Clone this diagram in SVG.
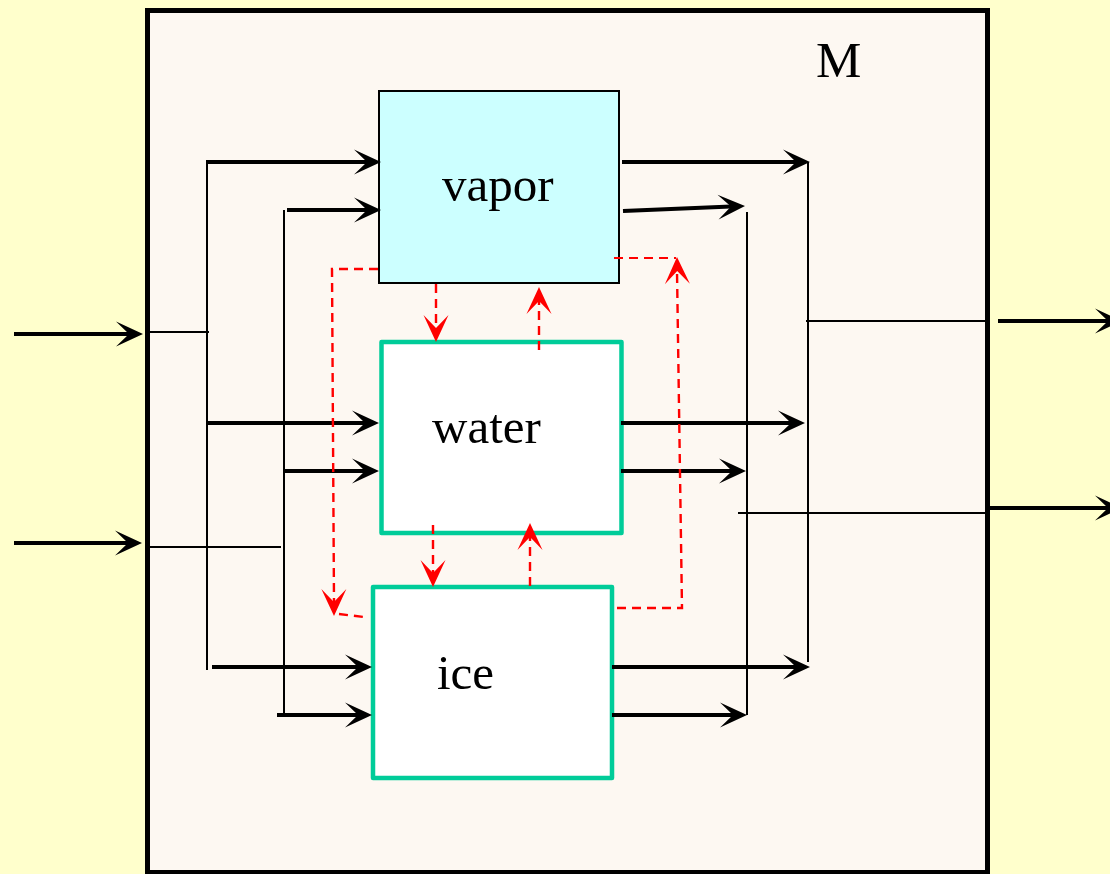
<svg xmlns="http://www.w3.org/2000/svg" width="1110" height="874" viewBox="0 0 1110 874">
<defs>
<style>
.lbl{font-family:"Liberation Serif","Times New Roman",serif;font-size:49px;fill:#000}
.thick{stroke:#000;stroke-width:4;fill:none}
.thin{stroke:#000;stroke-width:2;fill:none}
.red{stroke:#FF0000;stroke-width:2.4;fill:none;stroke-dasharray:9 6}
.teal{fill:#FFFFFF;stroke:#00CC99;stroke-width:4.5;stroke-linejoin:round}
.bh{fill:#000}
.rh{fill:#FF0000}
</style>
<path id="head" d="M0,0 L-27,-12.5 L-14,0 L-27,12.5 Z"/>
</defs>
<rect x="0" y="0" width="1110" height="874" fill="#FFFFCC"/>
<g id="M">
<rect x="147.5" y="10.5" width="840" height="862" fill="#FDF8F2" stroke="#000" stroke-width="5"/>
<text class="lbl" x="816" y="77" style="font-size:51px">M</text>
</g>
<g id="vapor">
<rect x="379" y="91" width="240" height="192" fill="#CCFFFF" stroke="#000" stroke-width="2"/>
<text class="lbl" x="442" y="201">vapor</text>
</g>
<g id="water">
<rect x="381.5" y="342" width="240" height="191" class="teal"/>
<text class="lbl" x="432" y="443">water</text>
</g>
<g id="ice">
<rect x="373" y="587" width="239" height="191" class="teal"/>
<text class="lbl" x="437" y="689">ice</text>
</g>
<g id="connectors">
<!-- external inputs -->
<line x1="14" y1="334" x2="129" y2="334" class="thick"/>
<use href="#head" class="bh" transform="translate(143,334)"/>
<line x1="14" y1="543" x2="128" y2="543" class="thick"/>
<use href="#head" class="bh" transform="translate(142,543)"/>
<line x1="145" y1="332" x2="209" y2="332" class="thin"/>
<line x1="145" y1="547" x2="281" y2="547" class="thin"/>
<!-- left buses -->
<line x1="207" y1="161" x2="207" y2="670" class="thin"/>
<line x1="284" y1="210" x2="284" y2="715" class="thin"/>
<!-- inputs to phases -->
<line x1="206" y1="162" x2="367" y2="162" class="thick"/>
<use href="#head" class="bh" transform="translate(381,162)"/>
<line x1="287" y1="210" x2="367" y2="210" class="thick"/>
<use href="#head" class="bh" transform="translate(381,210)"/>
<line x1="207" y1="423" x2="365" y2="423" class="thick"/>
<use href="#head" class="bh" transform="translate(379,423)"/>
<line x1="284" y1="471" x2="365" y2="471" class="thick"/>
<use href="#head" class="bh" transform="translate(379,471)"/>
<line x1="212" y1="667" x2="358" y2="667" class="thick"/>
<use href="#head" class="bh" transform="translate(372,667)"/>
<line x1="277" y1="715" x2="358" y2="715" class="thick"/>
<use href="#head" class="bh" transform="translate(372,715)"/>
<!-- outputs from phases -->
<line x1="622" y1="162" x2="796" y2="162" class="thick"/>
<use href="#head" class="bh" transform="translate(810,162)"/>
<line x1="623" y1="211" x2="731" y2="206.6" class="thick"/>
<use href="#head" class="bh" transform="translate(745,206) rotate(-2.4)"/>
<line x1="621" y1="423" x2="791" y2="423" class="thick"/>
<use href="#head" class="bh" transform="translate(805,423)"/>
<line x1="621" y1="471" x2="732" y2="471" class="thick"/>
<use href="#head" class="bh" transform="translate(746,471)"/>
<line x1="612" y1="667" x2="796" y2="667" class="thick"/>
<use href="#head" class="bh" transform="translate(810,667)"/>
<line x1="612" y1="715" x2="733" y2="715" class="thick"/>
<use href="#head" class="bh" transform="translate(747,715)"/>
<!-- right buses -->
<line x1="808" y1="162" x2="808" y2="662" class="thin"/>
<line x1="747" y1="212" x2="747" y2="715" class="thin"/>
<line x1="806" y1="321" x2="988" y2="321" class="thin"/>
<line x1="738" y1="513" x2="988" y2="513" class="thin"/>
<!-- external outputs -->
<line x1="998" y1="321" x2="1108" y2="321" class="thick"/>
<use href="#head" class="bh" transform="translate(1122,321)"/>
<line x1="990" y1="508" x2="1108" y2="508" class="thick"/>
<use href="#head" class="bh" transform="translate(1122,508)"/>
<!-- red dashed phase transitions -->
<line x1="436" y1="284" x2="436" y2="328" class="red"/>
<use href="#head" class="rh" transform="translate(436,342) rotate(90)"/>
<line x1="539" y1="350" x2="539" y2="301" class="red"/>
<use href="#head" class="rh" transform="translate(539,287) rotate(-90)"/>
<line x1="433" y1="525" x2="433" y2="573" class="red"/>
<use href="#head" class="rh" transform="translate(433,587) rotate(90)"/>
<line x1="530" y1="586" x2="530" y2="537" class="red"/>
<use href="#head" class="rh" transform="translate(530,523) rotate(-90)"/>
<polyline points="378,269 332,269 334,602" class="red"/>
<use href="#head" class="rh" transform="translate(334,616) rotate(89.7)"/>
<line x1="339" y1="614" x2="364" y2="617" class="red"/>
<polyline points="617,608 682,608 677,271" class="red"/>
<use href="#head" class="rh" transform="translate(677,257) rotate(-90.8)"/>
<line x1="614" y1="258" x2="676" y2="258" class="red" style="stroke-width:1.8"/>
</g>
</svg>
